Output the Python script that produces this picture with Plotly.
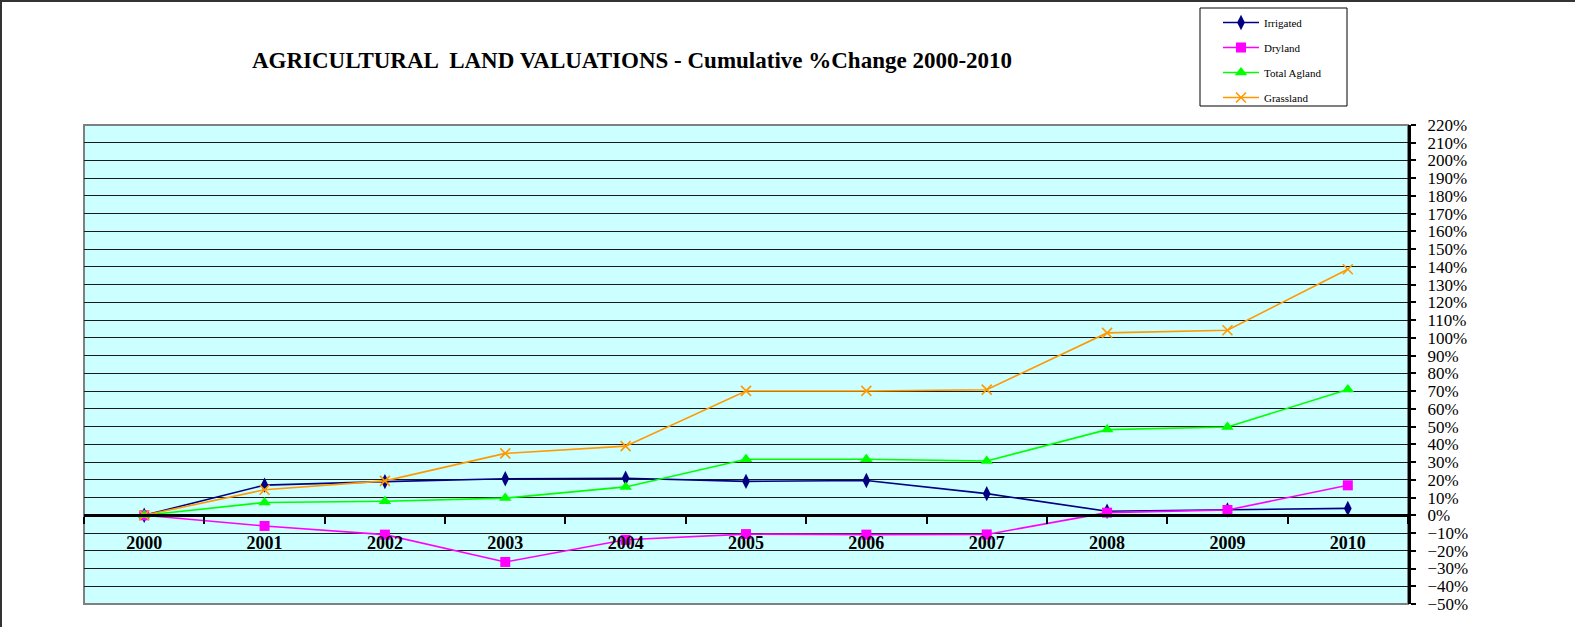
import plotly.graph_objects as go

years = ["2000", "2001", "2002", "2003", "2004", "2005", "2006", "2007", "2008", "2009", "2010"]
irrigated = [0, 17.0, 19.0, 20.6, 20.9, 19.1, 19.6, 12.2, 2.3, 3.0, 3.9]
dryland = [0, -6.0, -10.9, -26.3, -13.8, -10.6, -10.9, -10.8, 1.5, 3.0, 16.9]
total_agland = [0, 7.2, 7.9, 9.7, 16.0, 31.6, 31.6, 30.6, 48.3, 49.8, 70.9]
grassland = [0, 14.4, 19.4, 34.9, 39.0, 70.1, 70.1, 70.8, 102.8, 104.3, 138.7]

FONT = "Times New Roman, Liberation Serif, serif"
W, H = 1575, 627
L, R, T, B = 84, 167, 125, 23
PW, PH = W - L - R, H - T - B


def px_x(x):
    return (x - L) / PW


def px_y(y):
    return (H - B - y) / PH


fig = go.Figure()
series = [
    ("Irrigated", irrigated, "#000080", "diamond-tall", 11, None),
    ("Dryland", dryland, "#FF00FF", "square", 10, None),
    ("Total Agland", total_agland, "#00FF00", "triangle-up", 11, None),
    ("Grassland", grassland, "#FF9900", "x-thin-open", 10, 1.6),
]
for name, vals, col, sym, sz, lw in series:
    marker = dict(symbol=sym, size=sz, color=col)
    if lw:
        marker["line"] = dict(color=col, width=lw)
    else:
        marker["line"] = dict(width=0)
    fig.add_trace(go.Scatter(
        x=years, y=vals, name=name, mode="lines+markers",
        line=dict(color=col, width=1.6), marker=marker,
        legendgroup=name,
    ))

ymin, ymax = -50, 220
fig.update_layout(
    width=W, height=H,
    margin=dict(l=L, r=R, t=T, b=B, pad=0, autoexpand=False),
    paper_bgcolor="white",
    plot_bgcolor="#CCFFFF",
    font=dict(family=FONT, color="black"),
    title=dict(
        text="<b>AGRICULTURAL  LAND VALUATIONS - Cumulative %Change 2000-2010</b>",
        font=dict(family=FONT, size=23, color="black"),
        xref="container", yref="container", x=632 / W, y=1 - 60 / H,
        xanchor="center", yanchor="middle",
    ),
    showlegend=True,
    legend=dict(
        x=px_x(1218), y=px_y(8), xanchor="left", yanchor="top",
        bgcolor="rgba(0,0,0,0)", borderwidth=0,
        font=dict(family=FONT, size=11, color="black"),
        tracegroupgap=6, itemwidth=36,
    ),
    xaxis=dict(
        type="category", range=[-0.5, 10.5],
        anchor="free", position=(0 - ymin) / (ymax - ymin),
        showline=True, linecolor="black", linewidth=3,
        ticks="outside", ticklen=7, tickwidth=2, tickcolor="black",
        tickson="boundaries", showgrid=False,
        tickfont=dict(family=FONT, size=18, color="black", weight="bold"),
        ticklabelstandoff=10,
    ),
    yaxis=dict(
        side="right", range=[ymin, ymax], dtick=10, tick0=0,
        ticksuffix="%",
        showline=True, linecolor="black", linewidth=3, mirror=False,
        ticks="outside", ticklen=5, tickwidth=2, tickcolor="black",
        showgrid=True, gridcolor="#1a1a1a", gridwidth=1,
        zeroline=False,
        tickfont=dict(family=FONT, size=17, color="black"),
        ticklabelstandoff=8,
    ),
)

# legend frame
fig.add_shape(type="rect", xref="paper", yref="paper",
              x0=px_x(1200), x1=px_x(1347), y0=px_y(106), y1=px_y(8),
              line=dict(color="black", width=1), fillcolor="white", layer="below")
# plot-area border (grey)
fig.add_shape(type="rect", xref="paper", yref="paper", x0=0, y0=0, x1=1, y1=1,
              line=dict(color="#808080", width=2), layer="below")
# outer chart frame (left and top edges visible)
fig.add_shape(type="line", xref="paper", yref="paper",
              x0=px_x(1), x1=px_x(1), y0=px_y(H), y1=px_y(1),
              line=dict(color="#333333", width=2))
fig.add_shape(type="line", xref="paper", yref="paper",
              x0=px_x(0), x1=px_x(W), y0=px_y(1), y1=px_y(1),
              line=dict(color="#333333", width=2))

fig.write_html("out.html", config={"displayModeBar": False},
               post_script="document.body.style.margin='0';")
